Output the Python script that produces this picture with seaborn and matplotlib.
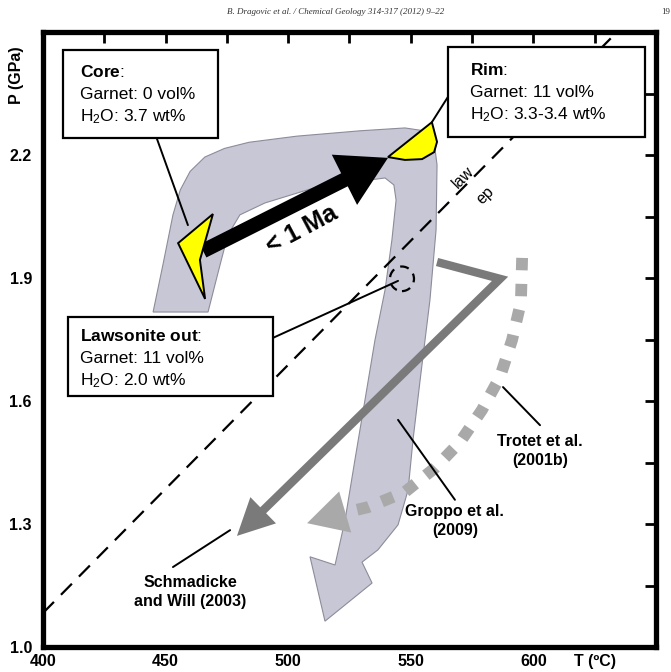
import numpy as np
import pandas as pd
import matplotlib
matplotlib.use("Agg")
import matplotlib.pyplot as plt
import seaborn as sns
from matplotlib.patches import Polygon, Rectangle, Ellipse, FancyArrowPatch

# ---------------- data (T in deg C, P in GPa) ----------------
band_T = [444.9, 448.9, 453.0, 456.0, 460.0, 466.0, 474.0, 484.0, 503.6, 529.3, 547.6,
          555.4, 559.5, 560.7, 560.3, 557.8, 553.8, 550.9, 548.9, 544.8, 536.6,
          530.1, 534.2, 515.0, 508.9, 519.1, 523.2, 527.2, 531.3, 535.4, 539.5,
          542.3, 544.0, 543.1, 539.5, 511.7, 490.5, 480.3, 475.4, 472.2, 467.3]
band_P = [1.817, 1.932, 2.054, 2.115, 2.160, 2.195, 2.216, 2.231, 2.246, 2.259, 2.266,
          2.259, 2.232, 2.176, 2.017, 1.846, 1.651, 1.505, 1.383, 1.298, 1.237,
          1.207, 1.156, 1.063, 1.220, 1.200, 1.310, 1.456, 1.602, 1.749, 1.871,
          1.993, 2.090, 2.127, 2.144, 2.122, 2.083, 2.054, 2.005, 1.932, 1.817]

core_T = [455.1, 469.3, 464.0, 466.1]
core_P = [1.985, 2.056, 1.944, 1.849]
rim_T = [540.7, 558.6, 560.7, 559.5, 554.6, 547.6]
rim_P = [2.195, 2.280, 2.232, 2.207, 2.190, 2.188]

time_T = [465.3, 540.7]
time_P = [1.966, 2.193]

reaction_T = [400.0, 634.1]
reaction_P = [1.083, 2.500]

lawsonite_out_T = 546.4
lawsonite_out_P = 1.898

schmadicke_T = [560.7, 586.4, 479.1]
schmadicke_P = [1.939, 1.898, 1.271]

trotet_T = [595.4, 594.9, 591.3, 586.4, 579.0, 570.1, 559.9, 547.6, 532.5, 519.1, 507.7]
trotet_P = [1.949, 1.841, 1.749, 1.659, 1.578, 1.500, 1.437, 1.378, 1.341, 1.322, 1.302]

# leader lines (T pair, P pair)
lead_core = ([446.5, 459.1], [2.239, 2.029])
lead_rim = ([565.6, 558.6], [2.346, 2.280])
lead_law = ([493.8, 544.8], [1.754, 1.893])
lead_trotet = ([587.6, 602.7], [1.634, 1.541])
lead_groppo = ([544.8, 568.0], [1.554, 1.359])
lead_schm = ([453.0, 476.3], [1.195, 1.285])

x_ticks = [400, 425, 450, 475, 500, 525, 550, 575, 600, 625]
x_labels = ["400", "", "450", "", "500", "", "550", "", "600", "T (ºC)"]
y_ticks = [1.0, 1.15, 1.3, 1.45, 1.6, 1.75, 1.9, 2.05, 2.2, 2.35]
y_labels = ["1.0", "", "1.3", "", "1.6", "", "1.9", "", "2.2", ""]

# ---------------- style ----------------
sns.set_theme(style="white")
plt.rcParams["font.family"] = ["Liberation Sans", "DejaVu Sans"]
plt.rcParams.update({
    "text.color": "black",
    "axes.labelcolor": "black",
    "xtick.color": "black",
    "ytick.color": "black",
    "mathtext.fontset": "custom",
    "mathtext.rm": "Liberation Sans",
    "mathtext.sf": "Liberation Sans",
    "mathtext.it": "Liberation Sans:italic",
    "mathtext.bf": "Liberation Sans:bold",
})

W, H = 671, 672
fig = plt.figure(figsize=(W / 100, H / 100), dpi=100)
ax = fig.add_axes([43 / W, 1 - 647 / H, 613 / W, 615 / H])
ax.set_xlim(400, 650)
ax.set_ylim(1.0, 2.5)


def fp(x, y):
    return (x / W, 1 - y / H)


def back_from_tip(p_from, p_tip, back_px):
    a = ax.transData.transform(p_from)
    b = ax.transData.transform(p_tip)
    d = (a - b) / np.linalg.norm(a - b)
    return ax.transData.inverted().transform(b + d * back_px)


def head(p_from, p_tip, color, ms, hl, hw, z):
    arr = FancyArrowPatch(p_from, p_tip,
                          arrowstyle=f"-|>,head_length={hl},head_width={hw}",
                          mutation_scale=ms, color=color, lw=0, shrinkA=0, shrinkB=0,
                          zorder=z)
    ax.add_patch(arr)


# P-T path band
ax.fill(band_T, band_P, facecolor="#c7c7d6", edgecolor="#8c8c9a", lw=0.8, zorder=1)

# reaction line law/ep
sns.lineplot(x=reaction_T, y=reaction_P, ax=ax, sort=False, estimator=None,
             color="black", lw=1.6, linestyle=(0, (7, 4.5)), zorder=3)
ax.add_patch(Ellipse((lawsonite_out_T, lawsonite_out_P), 9.8, 0.06, fill=False,
                     ec="black", lw=1.6, ls=(0, (4, 3)), zorder=3))
ax.text(571.3, 2.146, "law", rotation=45, fontsize=11.5, ha="center", va="center", zorder=4)
ax.text(580.3, 2.102, "ep", rotation=45, fontsize=11.5, ha="center", va="center", zorder=4)

# Schmadicke and Will (2003)
end = back_from_tip((schmadicke_T[1], schmadicke_P[1]), (schmadicke_T[2], schmadicke_P[2]), 22)
sns.lineplot(x=schmadicke_T[:2] + [end[0]], y=schmadicke_P[:2] + [end[1]], ax=ax,
             sort=False, estimator=None, color="#7a7a7a", lw=6, zorder=4,
             solid_joinstyle="miter", solid_capstyle="butt")
head((schmadicke_T[1], schmadicke_P[1]), (schmadicke_T[2], schmadicke_P[2]),
     "#7a7a7a", 22, 1.2, 0.6, 4)

# Trotet et al. (2001b)
tend = back_from_tip((trotet_T[-2], trotet_P[-2]), (trotet_T[-1], trotet_P[-1]), 22)
sns.lineplot(x=trotet_T[:-1] + [tend[0]], y=trotet_P[:-1] + [tend[1]], ax=ax,
             sort=False, estimator=None, color="#a9a9a9", lw=8.5, zorder=4,
             linestyle=(0, (1.05, 1.15)), dash_capstyle="butt")
head((trotet_T[-2], trotet_P[-2]), (trotet_T[-1], trotet_P[-1]), "#a9a9a9", 22, 1.3, 0.7, 4)

# black time arrow
tme = back_from_tip((time_T[0], time_P[0]), (time_T[1], time_P[1]), 25)
sns.lineplot(x=[time_T[0], tme[0]], y=[time_P[0], tme[1]], ax=ax, sort=False,
             estimator=None, color="black", lw=10.5, solid_capstyle="butt", zorder=5)
head((time_T[0], time_P[0]), (time_T[1], time_P[1]), "black", 27, 1.3, 0.75, 5)
ax.text(505.6, 2.017, "< 1 Ma", rotation=28, fontsize=18, fontweight="bold",
        ha="center", va="center", zorder=6)

# yellow garnet markers
ax.add_patch(Polygon(np.column_stack([core_T, core_P]), closed=True, fc="#ffff00",
                     ec="black", lw=1.4, zorder=6))
ax.add_patch(Polygon(np.column_stack([rim_T, rim_P]), closed=True, fc="#ffff00",
                     ec="black", lw=1.4, zorder=6))

# leader lines
for lt, lp in [lead_core, lead_rim, lead_law, lead_trotet, lead_groppo, lead_schm]:
    ax.plot(lt, lp, color="black", lw=1.4, zorder=7)

# labels
ax.text(602.7, 1.478, "Trotet et al.\n(2001b)", fontsize=11.5, fontweight="bold",
        ha="center", va="center", linespacing=1.3, zorder=8)
ax.text(568.0, 1.307, "Groppo et al.\n(2009)", fontsize=11.5, fontweight="bold",
        ha="center", va="center", linespacing=1.3, zorder=8)
ax.text(460.0, 1.134, "Schmadicke\nand Will (2003)", fontsize=11.5, fontweight="bold",
        ha="center", va="center", linespacing=1.3, zorder=8)


# boxes
def box(x0, y0, x1, y1, lines, tx, ty0, dy):
    ax.add_patch(Rectangle(fp(x0, y1), (x1 - x0) / W, (y1 - y0) / H,
                           transform=fig.transFigure, fc="white", ec="black",
                           lw=1.6, zorder=10))
    for i, s in enumerate(lines):
        ax.text(*fp(tx, ty0 + i * dy), s, transform=fig.transFigure, fontsize=12.5,
                ha="left", va="center", zorder=11)


box(63, 50, 218, 138, [r"$\mathbf{Core}$:", "Garnet: 0 vol%", r"H$_2$O: 3.7 wt%"], 80, 72, 22.5)
box(448, 47, 645, 137, [r"$\mathbf{Rim}$:", "Garnet: 11 vol%", r"H$_2$O: 3.3-3.4 wt%"], 470, 70, 22.5)
box(68, 317, 273, 396, [r"$\mathbf{Lawsonite\ out}$:", "Garnet: 11 vol%", r"H$_2$O: 2.0 wt%"], 80, 336, 22.5)

# axes styling
ax.set_xticks(x_ticks, x_labels)
ax.set_yticks(y_ticks, y_labels)
ax.set_xlabel("")
ax.set_ylabel("")
for s in ax.spines.values():
    s.set_linewidth(3.8)
    s.set_color("black")
    s.set_visible(True)
ax.tick_params(which="both", direction="in", length=8, width=2, top=True, right=True,
               labelsize=11.5, colors="black")
ax.tick_params(axis="y", pad=8)
ax.tick_params(axis="x", pad=5)
for lbl in ax.get_xticklabels() + ax.get_yticklabels():
    lbl.set_fontweight("bold")
ax.text(*fp(16, 75), "P (GPa)", transform=fig.transFigure, rotation=90, fontsize=11.5,
        fontweight="bold", ha="center", va="center")

fig.text(0.5, 1 - 12 / H, "B. Dragovic et al. / Chemical Geology 314-317 (2012) 9–22",
         family="Liberation Serif", style="italic", fontsize=6.5, ha="center", va="center",
         color="#333333")
fig.text(661 / W, 1 - 12 / H, "19", family="Liberation Serif", fontsize=6.5,
         ha="left", va="center", color="#333333")

fig.savefig("out.png", dpi=100)
